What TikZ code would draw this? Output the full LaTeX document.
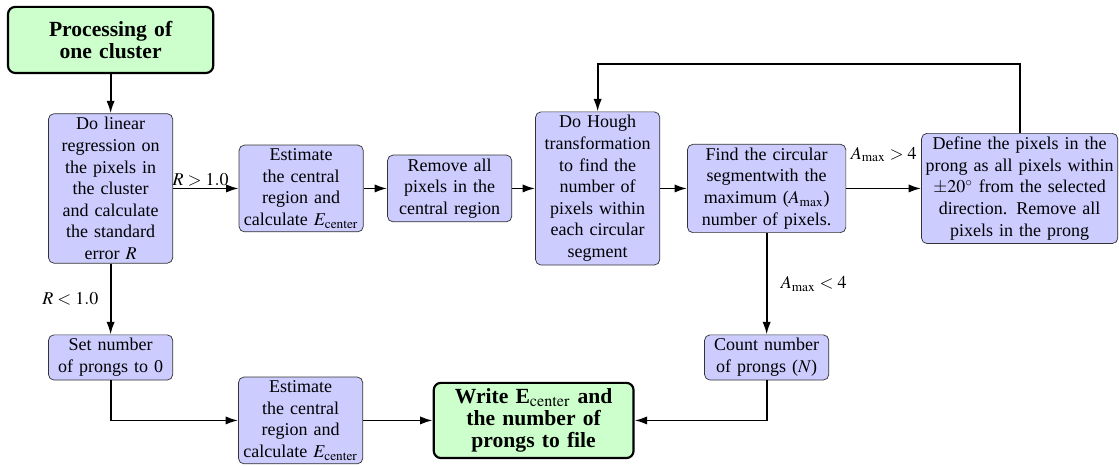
\documentclass[tikz,border=0pt]{standalone}
\usepackage{mathptmx}
\usepackage{fontspec}
\setmainfont{Liberation Serif}
\usetikzlibrary{arrows,arrows.meta,shapes,positioning}
\usepackage{amsmath}

\begin{document}
\begin{tikzpicture}[scale=1.0, >={Latex[length=7pt,width=4.6pt]},
	box/.style={draw=black!80, fill=blue!20, rounded corners=3pt, align=center, inner sep=2pt, text width=65pt},
	term/.style={draw, very thick, fill=green!20, rounded corners=4pt, align=center, inner sep=3pt, font=\fontsize{12}{12.4}\selectfont\bfseries},
	flow/.style={->, line width=1pt}]
				\useasboundingbox (0,0) rectangle (21.85,9.10);
				\node[term, text width=108pt, minimum height=36.7pt] (A) at (2.16,8.32) {Processing of\\ one cluster};
				\node[box] (B) at (2.16,5.42) {Do linear\\ regression on\\ the pixels in\\ the cluster\\ and calculate\\ the standard\\ error $R$};
				\node[box] (C) at (5.88,5.42) {Estimate\\ the central\\ region and\\ calculate $E_{\mathrm{center}}$};
				\node[box] (D) at (8.78,5.42) {Remove all\\ pixels in the\\ central region};
				\node[box] (E) at (11.67,5.42) {Do Hough\\ transformation\\ to find the\\ number of\\ pixels within\\ each circular\\ segment};
				\node[box, text width=84pt] (F) at (14.97,5.42) {Find the circular\\ segmentwith the\\ maximum ($A_{\max}$)\\ number of pixels.};
				\node[box, text width=105pt] (G) at (19.91,5.42) {Define the pixels in the\\ prong as all pixels within\\ $\pm 20^\circ$ from the selected\\ direction.  Remove all\\ pixels in the prong};
				\node[box] (H) at (2.16,2.12) {Set number\\ of prongs to 0};
				\node[box] (I) at (14.97,2.12) {Count number\\ of prongs ($N$)};
				\node[box] (J) at (5.87,0.89) {Estimate\\ the central\\ region and\\ calculate $E_{\mathrm{center}}$};
				\node[term, text width=105pt] (K) at (10.42,0.89) {Write E$_{\mathrm{center}}$ and\\ the number of\\ prongs to file};

				\path [flow] (A) edge (B);
				\path [flow] (B) edge node[above, inner sep=1pt, pos=0.42] {$R > 1.0$} (C);
				\path [flow] (C) edge (D);
				\path [flow] (D) edge (E);
				\path [flow] (E) edge (F);
				\path [flow] (F) edge node[above=0.38cm] {$A_{\max} > 4$} (G);
				\draw [flow] (G.north) -- ++(0,1.35) -| (E.north);
				\path [flow] (B) edge node[left=3pt] {$R < 1.0$} (H);
				\draw [flow] (H.south) |- (J.west);
				\path [flow] (J) edge (K);
				\path [flow] (F) edge node[right=4pt] {$A_{\max} < 4$} (I);
				\draw [flow] (I.south) |- (K.east);
			\end{tikzpicture}
\end{document}
